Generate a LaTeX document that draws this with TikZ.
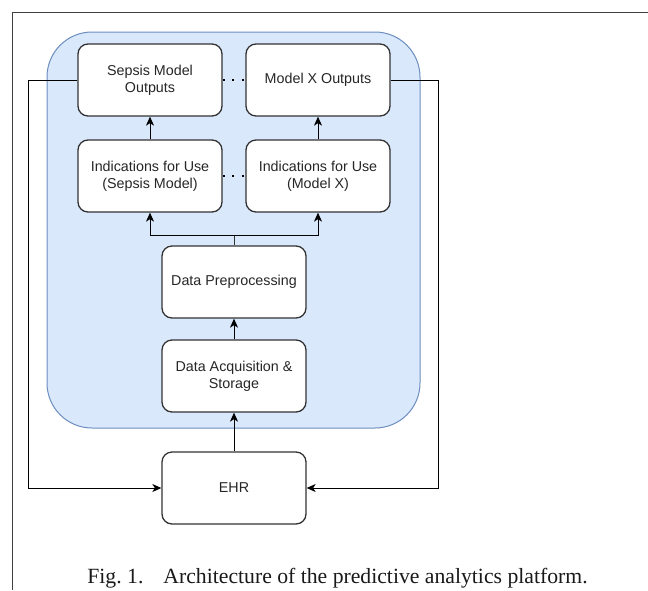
\documentclass[tikz,border=0pt]{standalone}
\usepackage{fontspec}
\setmainfont{Liberation Serif}
\setsansfont{Liberation Sans}
\usepackage{tikz}
\usetikzlibrary{arrows.meta,positioning}
\definecolor{panelfill}{HTML}{DAE8FC}
\definecolor{panelline}{HTML}{6C8EBF}
\tikzstyle{block}=[draw=black!80, line width=1.3pt, rounded corners=10pt, fill=white, minimum width=144pt, minimum height=72pt, align=center, font=\sffamily\fontsize{14.3}{17}\selectfont, text=black!85]
\tikzstyle{flow}=[-{Stealth[length=9pt,width=8pt,inset=2.5pt]}, line width=1pt]
\tikzstyle{wire}=[black!80, line width=1pt]
\tikzstyle{gap}=[line width=2.2pt, dash pattern=on 2pt off 7.5pt]

\begin{document}
\begin{tikzpicture}[x=1pt,y=-1pt]
	\useasboundingbox (0,0) rectangle (648,590);
	\draw[black!75, line width=0.9pt] (648,12) -- (12,12) -- (12,590);
	\filldraw[fill=panelfill, draw=panelline, line width=1pt, rounded corners=45pt] (47,32) rectangle (420,428);
	\node[block] (sepout) at (150,80) {Sepsis Model\\Outputs};
	\node[block] (xout) at (318,80) {Model X Outputs};
	\node[block] (sepind) at (150,176) {Indications for Use\\(Sepsis Model)};
	\node[block] (xind) at (318,176) {Indications for Use\\(Model X)};
	\node[block] (prep) at (234,282) {Data Preprocessing};
	\node[block] (acq) at (234,376) {Data Acquisition \&\\Storage};
	\node[block] (ehr) at (234,488) {EHR};
	\draw[gap] (sepout.east) -- (xout.west);
	\draw[gap] (sepind.east) -- (xind.west);
	\draw[flow] (sepind) -- (sepout);
	\draw[flow] (xind) -- (xout);
	\draw[wire] (prep.north) -- ++(0,-10) coordinate (split);
	\draw[flow] (split) -| (sepind.south);
	\draw[flow] (split) -| (xind.south);
	\draw[flow] (acq) -- (prep);
	\draw[flow] (ehr) -- (acq);
	\draw[flow] (sepout.west) -- ++(-49,0) |- (ehr.west);
	\draw[flow] (xout.east) -- ++(48,0) |- (ehr.east);
	\node[anchor=base, font=\fontsize{21.7}{25}\selectfont, text=black!90] (caption) at (337.5,583) {Fig.~1.\hspace{20pt}Architecture of the predictive analytics platform.};
\end{tikzpicture}
\end{document}
